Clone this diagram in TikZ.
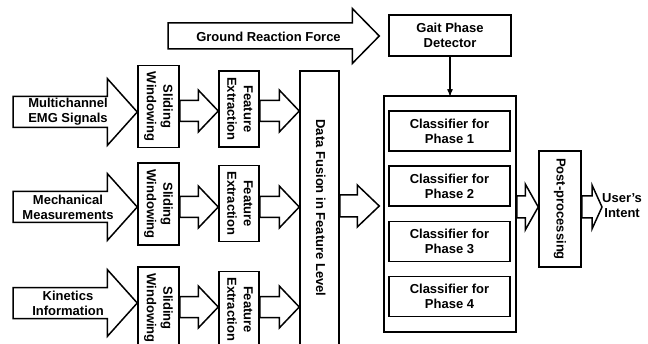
\documentclass[tikz,border=0pt]{standalone}
\usepackage{fontspec}
\setmainfont{Liberation Sans}
\usepackage{graphicx}
\usepackage{tikz}
\usetikzlibrary{arrows}
\usetikzlibrary{calc}

\newcommand{\vtext}[1]{\rotatebox{-90}{\renewcommand{\arraystretch}{1.1}\begin{tabular}{@{}c@{}}#1\end{tabular}}}
% block arrow: tail, tip, half body, half head, head length
\newcommand{\blockarrow}[5]{%
  \draw[big arrow] let \p1=(#1), \p2=(#2) in
    (\x1,\y2+#3pt) -- (\x2-#5pt,\y2+#3pt) -- (\x2-#5pt,\y2+#4pt) -- (\x2,\y2)
    -- (\x2-#5pt,\y2-#4pt) -- (\x2-#5pt,\y2-#3pt) -- (\x1,\y2-#3pt) -- cycle;}

\begin{document}
\begin{tikzpicture}[x=1pt,y=1pt,>=stealth',
    box/.style={draw,line width=1.5pt,inner sep=0pt,align=center,font=\bfseries\fontsize{13}{15}\selectfont},
    sig text/.style={inner sep=0pt,align=center,font=\bfseries\fontsize{13}{15}\selectfont},
    big arrow/.style={draw,line width=1.5pt,line join=miter}]
   \fill[white] (0,0) rectangle (648,343);
   \useasboundingbox (0,0) rectangle (648,343);
   % inputs
   \coordinate (emg) at (13,231);
   \coordinate (mech) at (13,136);
   \coordinate (kin) at (13,40);
   \coordinate (grf) at (168,307);
   % windowing and features
   \node[box,minimum width=41,minimum height=82] (sw1) at (158.5,236.5) {\vtext{Sliding\\Windowing}};
   \node[box,minimum width=41,minimum height=82] (sw2) at (158.5,139) {\vtext{Sliding\\Windowing}};
   \node[box,minimum width=41,minimum height=82] (sw3) at (158.5,35) {\vtext{Sliding\\Windowing}};
   \node[box,minimum width=40,minimum height=76] (fe1) at (239,234) {\vtext{Feature\\Extraction}};
   \node[box,minimum width=40,minimum height=76] (fe2) at (239,139.5) {\vtext{Feature\\Extraction}};
   \node[box,minimum width=40,minimum height=76] (fe3) at (239,33.5) {\vtext{Feature\\Extraction}};
   \node[box,minimum width=39,minimum height=274] (df) at (319.5,135) {\vtext{Data Fusion in Feature Level}};
   % gait phase and classifiers
   \node[box,minimum width=122,minimum height=41] (gait) at (450,307.5) {Gait Phase\\Detector};
   \node[draw,line width=1.5pt,minimum width=132,minimum height=236] (cls) at (450,129) {};
   \node[box,minimum width=121,minimum height=40] (c1) at (449.5,212) {Classifier for\\Phase 1};
   \node[box,minimum width=121,minimum height=40] (c2) at (449.5,157) {Classifier for\\Phase 2};
   \node[box,minimum width=121,minimum height=40] (c3) at (449.5,101.5) {Classifier for\\Phase 3};
   \node[box,minimum width=121,minimum height=40] (c4) at (449.5,46.5) {Classifier for\\Phase 4};
   \node[box,minimum width=42,minimum height=116] (post) at (560,134) {\vtext{Post-processing}};
   \node[sig text,anchor=west] (intent) at (602,137) {User's\\Intent};
   % big arrows
   \blockarrow{emg}{sw1.west |- emg}{15.5}{33.5}{30}
   \blockarrow{mech}{sw2.west |- mech}{15.5}{33.5}{30}
   \blockarrow{kin}{sw3.west |- kin}{15.5}{33.5}{30}
   \blockarrow{grf}{$(gait.west |- grf)+(-9,0)$}{13}{27.5}{27}
   \node[sig text] (emgtxt) at (68,231) {Multichannel\\EMG Signals};
   \node[sig text] (mechtxt) at (68,136) {Mechanical\\Measurements};
   \node[sig text] (kintxt) at (68,40) {Kinetics\\Information};
   \node[sig text] (grftxt) at (268.5,306) {Ground Reaction Force};
   % small arrows
   \blockarrow{sw1.east |- 0,232}{fe1.west |- 0,232}{10.5}{21}{20}
   \blockarrow{sw2.east |- 0,136}{fe2.west |- 0,136}{10.5}{21}{20}
   \blockarrow{sw3.east |- 0,36}{fe3.west |- 0,36}{10.5}{21}{20}
   \blockarrow{fe1.east |- 0,232}{df.west |- 0,232}{10.5}{21}{20}
   \blockarrow{fe2.east |- 0,136}{df.west |- 0,136}{10.5}{21}{20}
   \blockarrow{fe3.east |- 0,36}{df.west |- 0,36}{10.5}{21}{20}
   \blockarrow{df.east |- 0,137}{$(cls.west |- 0,137)+(-4,0)$}{11}{21}{22}
   \blockarrow{cls.east |- 0,136}{post.west |- 0,136}{11}{23}{13}
   \blockarrow{post.east |- 0,136}{intent.west |- 0,136}{11}{22}{10}
   \draw[->,line width=1.2pt] (gait) -- (cls);
\end{tikzpicture}
\end{document}
